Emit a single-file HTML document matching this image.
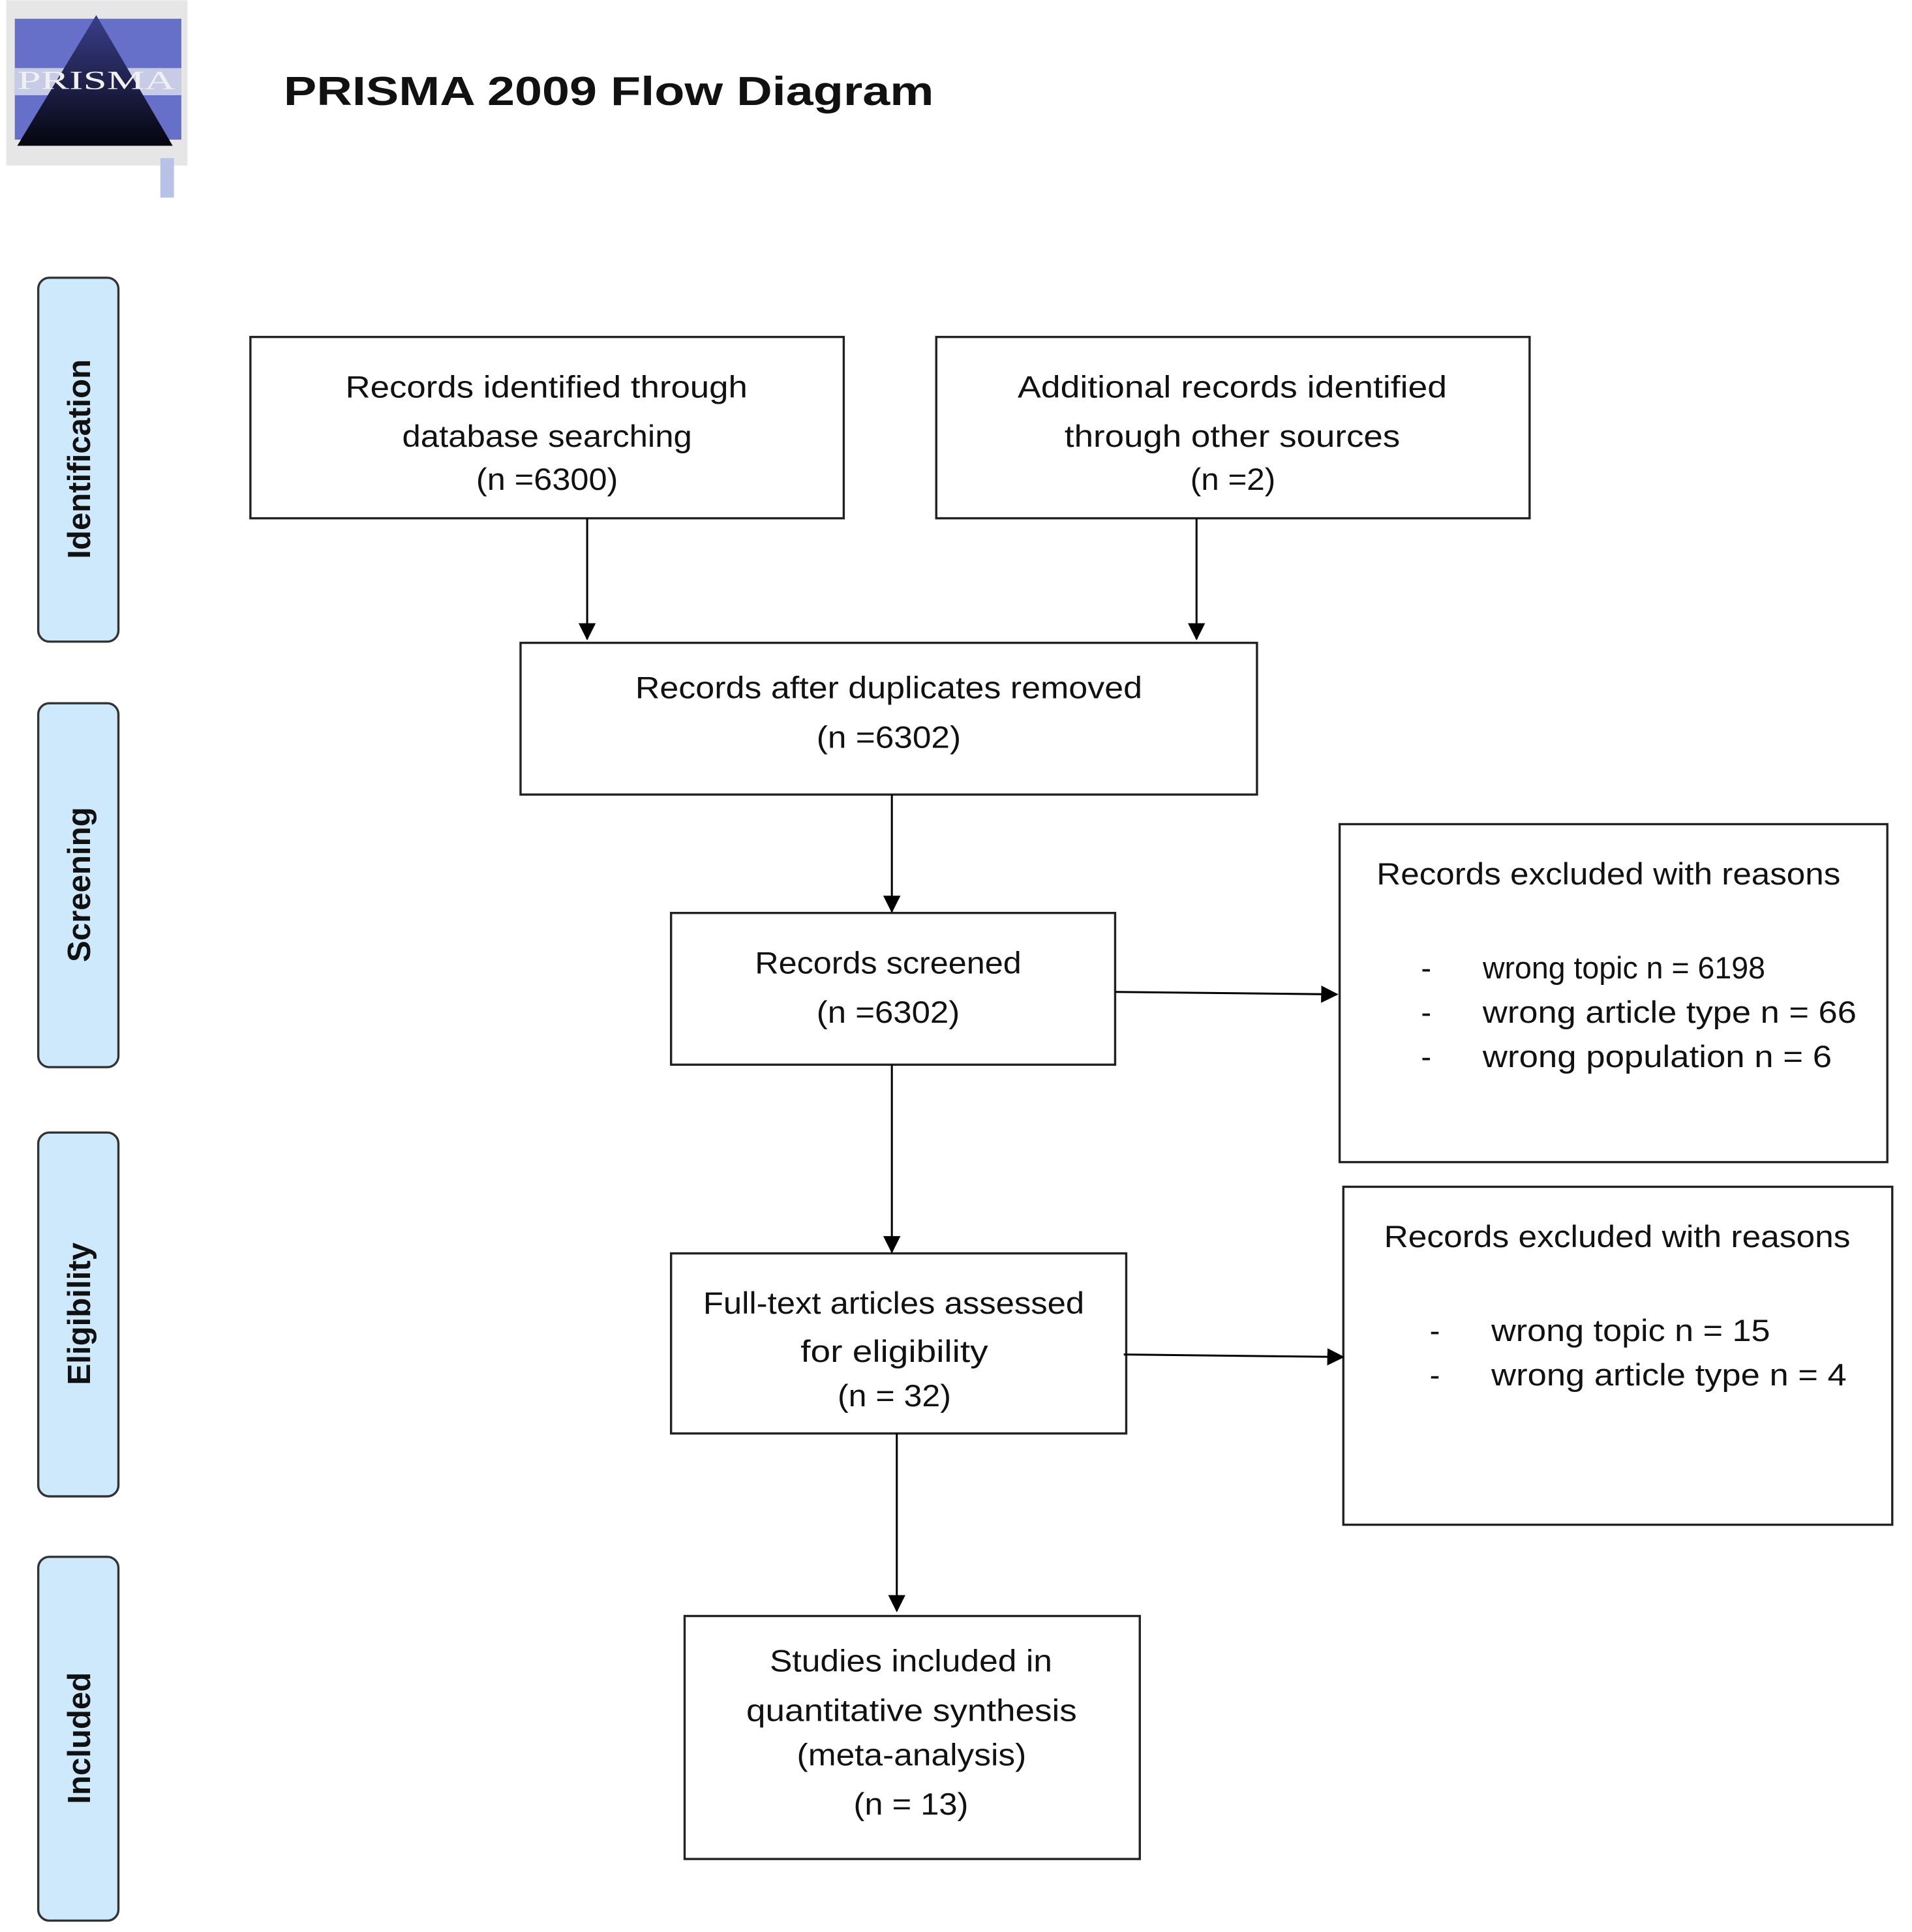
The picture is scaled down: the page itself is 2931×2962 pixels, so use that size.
<!DOCTYPE html>
<html><head><meta charset="utf-8"><style>
html,body{margin:0;padding:0;background:#fff;}
svg{display:block;}
text{font-family:"Liberation Sans",sans-serif;fill:#111;}
</style></head><body>
<svg width="2931" height="2962" viewBox="0 0 1550 1566" xmlns="http://www.w3.org/2000/svg">
<defs>
<marker id="ah" markerWidth="14" markerHeight="14" refX="13" refY="7" orient="auto" markerUnits="userSpaceOnUse">
<path d="M0,0 L14,7 L0,14 z" fill="#000"/></marker>
<linearGradient id="tri" x1="0" y1="0" x2="0" y2="1">
<stop offset="0" stop-color="#3a3f8a"/><stop offset="1" stop-color="#05050f"/></linearGradient>
</defs>
<rect x="5" y="0" width="147" height="134" fill="#e6e6e6"/>
<rect x="12" y="15" width="135" height="98" fill="#6670c8"/>
<rect x="12" y="55" width="135" height="22" fill="#c8cbe6"/>
<polygon points="78,12 140,118 14,118" fill="url(#tri)"/>
<text x="14" y="72" font-size="21" style="fill:#f0f0f0;font-family:'Liberation Serif',serif" textLength="128" lengthAdjust="spacingAndGlyphs">PRISMA</text>
<rect x="130" y="128" width="11" height="32" fill="#b8c2e6"/>
<text x="230" y="85" font-size="33" font-weight="bold" textLength="527" lengthAdjust="spacingAndGlyphs">PRISMA 2009 Flow Diagram</text>

<g fill="#cde9fb" stroke="#333" stroke-width="1.8">
<rect x="31" y="225" width="65" height="295" rx="9"/>
<rect x="31" y="570" width="65" height="295" rx="9"/>
<rect x="31" y="918" width="65" height="295" rx="9"/>
<rect x="31" y="1262" width="65" height="295" rx="9"/>
</g>
<g font-size="26" font-weight="bold" text-anchor="middle">
<text transform="translate(73,372) rotate(-90)">Identification</text>
<text transform="translate(73,717) rotate(-90)">Screening</text>
<text transform="translate(73,1065) rotate(-90)">Eligibility</text>
<text transform="translate(73,1409) rotate(-90)">Included</text>
</g>

<g fill="#fff" stroke="#222" stroke-width="1.8">
<rect x="203" y="273" width="481" height="147"/>
<rect x="759" y="273" width="481" height="147"/>
<rect x="422" y="521" width="597" height="123"/>
<rect x="544" y="740" width="360" height="123"/>
<rect x="1086" y="668" width="444" height="274"/>
<rect x="544" y="1016" width="369" height="146"/>
<rect x="1089" y="962" width="445" height="274"/>
<rect x="555" y="1310" width="369" height="197"/>
</g>

<g stroke="#000" stroke-width="1.6" fill="none" marker-end="url(#ah)">
<line x1="476" y1="420" x2="476" y2="518"/>
<line x1="970" y1="420" x2="970" y2="518"/>
<line x1="723" y1="644" x2="723" y2="739"/>
<line x1="904" y1="804" x2="1084" y2="806"/>
<line x1="723" y1="863" x2="723" y2="1015"/>
<line x1="911" y1="1098" x2="1089" y2="1100"/>
<line x1="727" y1="1162" x2="727" y2="1306"/>
</g>

<g font-size="25">
<text x="280" y="322" textLength="326" lengthAdjust="spacingAndGlyphs">Records identified through</text>
<text x="326" y="362" textLength="235" lengthAdjust="spacingAndGlyphs">database searching</text>
<text x="386" y="397" textLength="115" lengthAdjust="spacingAndGlyphs">(n =6300)</text>

<text x="825" y="322" textLength="348" lengthAdjust="spacingAndGlyphs">Additional records identified</text>
<text x="863" y="362" textLength="272" lengthAdjust="spacingAndGlyphs">through other sources</text>
<text x="965" y="397" textLength="69" lengthAdjust="spacingAndGlyphs">(n =2)</text>

<text x="515" y="566" textLength="411" lengthAdjust="spacingAndGlyphs">Records after duplicates removed</text>
<text x="662" y="606" textLength="117" lengthAdjust="spacingAndGlyphs">(n =6302)</text>

<text x="612" y="789" textLength="216" lengthAdjust="spacingAndGlyphs">Records screened</text>
<text x="662" y="829" textLength="116" lengthAdjust="spacingAndGlyphs">(n =6302)</text>

<text x="1116" y="717" textLength="376" lengthAdjust="spacingAndGlyphs">Records excluded with reasons</text>
<text x="1152" y="793">-</text>
<text x="1202" y="793" textLength="229" lengthAdjust="spacingAndGlyphs">wrong topic n = 6198</text>
<text x="1152" y="829">-</text>
<text x="1202" y="829" textLength="303" lengthAdjust="spacingAndGlyphs">wrong article type n = 66</text>
<text x="1152" y="865">-</text>
<text x="1202" y="865" textLength="283" lengthAdjust="spacingAndGlyphs">wrong population n = 6</text>

<text x="570" y="1065" textLength="309" lengthAdjust="spacingAndGlyphs">Full-text articles assessed</text>
<text x="649" y="1104" textLength="152" lengthAdjust="spacingAndGlyphs">for eligibility</text>
<text x="679" y="1140" textLength="92" lengthAdjust="spacingAndGlyphs">(n = 32)</text>

<text x="1122" y="1011" textLength="378" lengthAdjust="spacingAndGlyphs">Records excluded with reasons</text>
<text x="1159" y="1087">-</text>
<text x="1209" y="1087" textLength="226" lengthAdjust="spacingAndGlyphs">wrong topic n = 15</text>
<text x="1159" y="1123">-</text>
<text x="1209" y="1123" textLength="288" lengthAdjust="spacingAndGlyphs">wrong article type n = 4</text>

<text x="624" y="1355" textLength="229" lengthAdjust="spacingAndGlyphs">Studies included in</text>
<text x="605" y="1395" textLength="268" lengthAdjust="spacingAndGlyphs">quantitative synthesis</text>
<text x="646" y="1431" textLength="186" lengthAdjust="spacingAndGlyphs">(meta-analysis)</text>
<text x="692" y="1471" textLength="93" lengthAdjust="spacingAndGlyphs">(n = 13)</text>
</g>
</svg>
</body></html>
